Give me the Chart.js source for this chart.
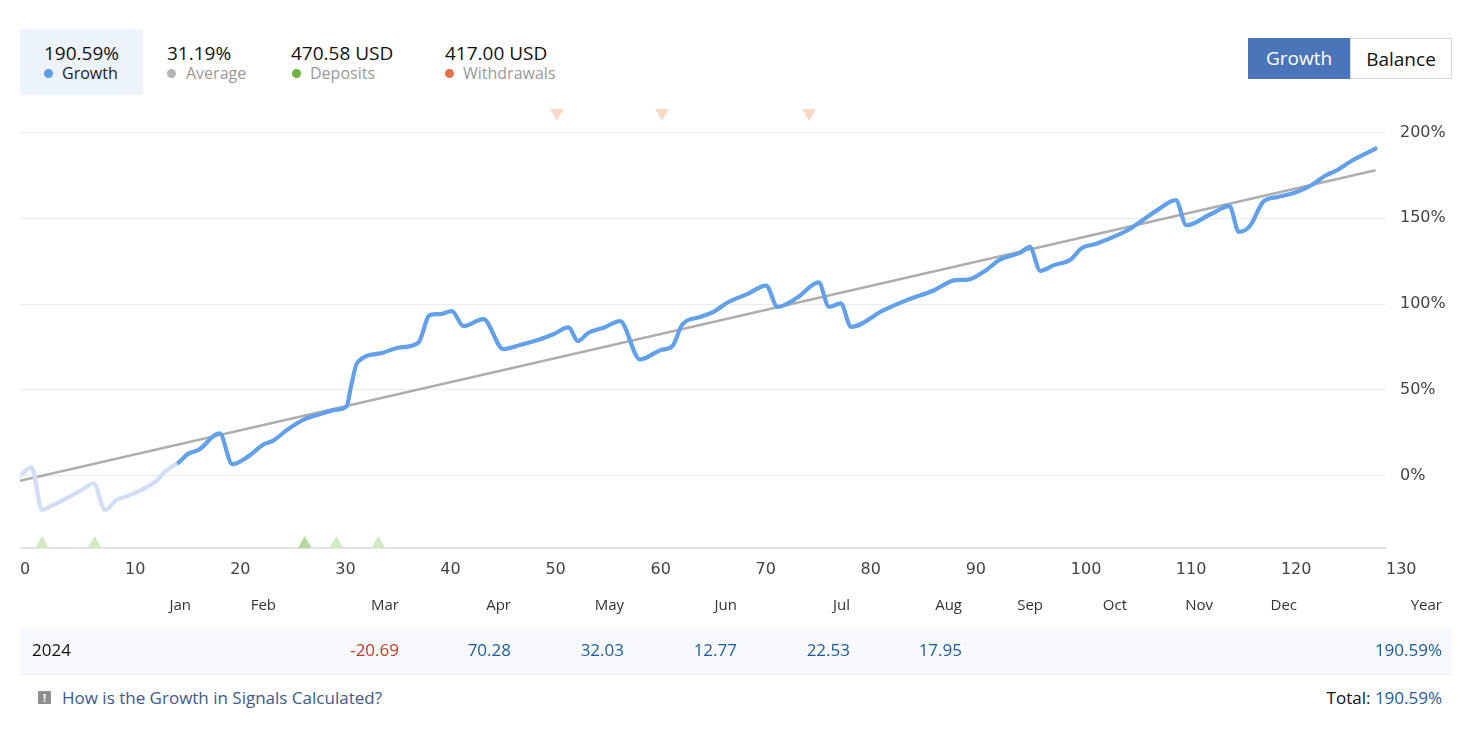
<!DOCTYPE html>
<html><head><meta charset="utf-8">
<script src="https://cdn.jsdelivr.net/npm/chart.js@4"></script>
<style>
html,body{margin:0;padding:0;background:#fff}
body{width:1472px;height:733px;position:relative;overflow:hidden;font-family:'Open Sans',sans-serif}
.a{position:absolute;white-space:nowrap}
.val{font-size:19px;line-height:24px;color:#111;top:41px}
.lab{font-size:16px;line-height:20px;top:63px;color:#999}
.dot{position:absolute;width:9px;height:9px;border-radius:50%;top:68.5px}
.btn{position:absolute;top:38px;height:41px;width:102px;box-sizing:border-box;font-size:19px;line-height:41px;text-align:center}
.mh{font-size:15px;line-height:20px;top:594px;color:#333;text-align:right}
.mv{font-size:17px;line-height:22px;top:639px;color:#1d5c9c;text-align:right}
#wrap{position:absolute;left:20px;top:98px;width:1440px;height:500px}
</style></head>
<body>
<div class="a" style="left:20px;top:29px;width:123px;height:66px;background:#edf3fb;border-radius:2px"></div>
<div id="hdr"></div>
<div class="btn" style="left:1248px;background:#4a76b9;color:#fff">Growth</div>
<div class="btn" style="left:1350px;border:1px solid #d9d9d9;color:#111">Balance</div>
<div id="wrap"><canvas id="c"></canvas></div>
<div class="a" style="left:20px;top:627px;width:1432px;height:47px;background:#f8f9fd;border-bottom:1px solid #eef0f5"></div>
<div class="a" style="left:32px;top:639px;font-size:17px;line-height:22px;color:#111">2024</div>
<div id="tbl"></div>
<div class="a" style="left:38px;top:691px;width:13px;height:13px;background:#8e8e8e;color:#fff;font-size:11px;line-height:13px;text-align:center;font-weight:bold;border-radius:1px">!</div>
<div class="a" style="left:62px;top:687px;font-size:17px;line-height:22px;color:#3d5a8a">How is the Growth in Signals Calculated?</div>
<div class="a" style="right:30px;top:687px;font-size:17px;line-height:22px;color:#111">Total: <span style="color:#1d5c9c">190.59%</span></div>
<script>
// ---- data ----
const tradeX = [0,1.1,2.1,2.9,5.9,7.0,8.1,9.2,10.3,12.9,
14.0,15.1,16.0,17.0,19.0,20.2,21.7,23.2,24.1,25.4,
27.1,28.6,30.0,31.1,31.5,32.1,34.3,36.0,37.9,39.0,
40.0,41.1,42.2,44.1,46.0,47.6,49.5,50.8,52.2,53.1,
54.1,55.6,57.1,59.0,61.0,62.1,63.0,64.8,66.0,67.3,
69.2,71.0,72.1,74.0,76.0,77.0,78.1,79.1,82.2,84.4,
87.0,89.0,90.2,91.7,93.3,95.2,96.1,97.1,98.4,100.0,
101.0,102.5,105.4,108.3,110.0,111.0,113.3,115.1,116.0,117.1,
118.3,119.7,121.3,122.9,124.3,125.2,126.7,129.0];
const growthY = [0,5,-19.8,-17.8,-8.1,-4.3,-19.8,-14,-11.6,-3.3,
3.5,7.8,12.8,15.1,24.8,6.8,11.2,18.4,20.5,26.7,
33,36,38.4,40.7,52,66,71.3,74.6,77.5,93.6,
94.2,95.9,87.2,91.3,73.8,76.2,79.5,82.6,86.4,78.5,
83.3,86.4,90.1,67.8,73.3,75.6,87.8,92.6,95.5,100.8,
105.8,110.8,98.4,103.9,112.6,98.4,100.4,86.8,96.5,102.3,
108.1,114,114.3,118.8,126,130,133.3,119.4,122.7,126,
132.4,135.3,143,155,160.5,145.9,152.3,157,142,145.9,
159.5,162.4,164.8,169.2,175,177.5,183.3,190.59];
const lightUntil = 15;
const avgX = [0,129];
const avgY = [-2.9,177.9];
const depositX = [2.1,7.1,27.1,30.1,34.1];
const withdrawalX = [51.1,61.1,75.1];
const yTicks = [0,50,100,150,200];
const summaryValues = ['190.59%','31.19%','470.58 USD','417.00 USD'];
const summaryLabels = ['Growth','Average','Deposits','Withdrawals'];
const months = ['Jan','Feb','Mar','Apr','May','Jun','Jul','Aug','Sep','Oct','Nov','Dec','Year'];
const monthValues = [null,null,-20.69,70.28,32.03,12.77,22.53,17.95,null,null,null,null];
const yearValue = '190.59%';

// ---- layout (not data) ----
const sumLeft = [44,167,291,445], dotLeft=[44,167,292,445], labLeft=[62,186,310,463];
const dotColors = ['#5b9ee6','#b3b3b3','#6db33f','#e4704a'];
const colRight = [191,276,399,511,624,737,850,962,1043,1127,1213,1297,1442];

let h='';
for(let i=0;i<4;i++){
  h+=`<div class="a val" style="left:${sumLeft[i]}px">${summaryValues[i]}</div>`;
  h+=`<div class="dot" style="left:${dotLeft[i]}px;background:${dotColors[i]}"></div>`;
  h+=`<div class="a lab" style="left:${labLeft[i]}px;${i===0?'color:#222':''}">${summaryLabels[i]}</div>`;
}
document.getElementById('hdr').innerHTML=h;
let t='';
months.forEach((m,i)=>{ t+=`<div class="a mh" style="right:${1472-colRight[i]}px">${m}</div>`; });
monthValues.forEach((v,i)=>{ if(v!==null) t+=`<div class="a mv" style="right:${1472-colRight[i]}px;${v<0?'color:#c23b1c':''}">${v.toFixed(2)}</div>`; });
t+=`<div class="a mv" style="right:${1472-colRight[12]}px">${yearValue}</div>`;
document.getElementById('tbl').innerHTML=t;

const growthPts = tradeX.map((x,i)=>({x:x,y:growthY[i]}));
const avgPts = avgX.map((x,i)=>({x:x,y:avgY[i]}));
const depPts = depositX.map(x=>({x:x,y:-39.7}));
const wdPts = withdrawalX.map(x=>({x:x,y:211.3}));

function noPad(s){s.paddingLeft=0;s.paddingRight=0;s.paddingTop=0;s.paddingBottom=0;}

new Chart(document.getElementById('c'),{
  type:'line',
  data:{datasets:[
    {data:growthPts,borderColor:'#62a1ea',borderWidth:4.2,pointRadius:0,cubicInterpolationMode:'monotone',
     borderJoinStyle:'round',borderCapStyle:'round',order:1,
     segment:{borderColor:ctx=>ctx.p0.parsed.x<lightUntil?'#d3def6':'#62a1ea'}},
    {data:avgPts,borderColor:'#adadad',borderWidth:2.5,pointRadius:0,order:2},
    {type:'scatter',data:depPts,pointStyle:'triangle',pointRadius:8,
     backgroundColor:['#d4e8c6','#d4e8c6','#b7d8a2','#d4e8c6','#d4e8c6'],borderWidth:0,clip:false,order:0},
    {type:'scatter',data:wdPts,pointStyle:'triangle',rotation:180,pointRadius:8,
     backgroundColor:'#f9d9c3',borderWidth:0,clip:false,order:0}
  ]},
  options:{
    responsive:true,maintainAspectRatio:false,animation:false,
    layout:{padding:0,autoPadding:false},
    plugins:{legend:{display:false},tooltip:{enabled:false}},
    scales:{
      x:{type:'linear',min:0,max:130,
        grid:{display:false,drawTicks:false},
        border:{display:true,color:'#e3e3e3',width:2},
        ticks:{stepSize:10,includeBounds:false,align:'start',padding:12,maxRotation:0,autoSkip:false,
          color:'#444',font:{family:'DejaVu Sans',size:16}},
        afterFit:s=>{s.height=50;noPad(s);}},
      y:{position:'right',min:-42,max:220,
        grid:{color:'#ececec',lineWidth:1,drawTicks:false},
        border:{display:false},
        afterBuildTicks:s=>{s.ticks=yTicks.map(v=>({value:v}));},
        ticks:{padding:14,color:'#444',font:{family:'DejaVu Sans',size:16},callback:v=>v+'%'},
        afterFit:s=>{s.width=74;noPad(s);}}
    }
  }
});
</script>
</body></html>
